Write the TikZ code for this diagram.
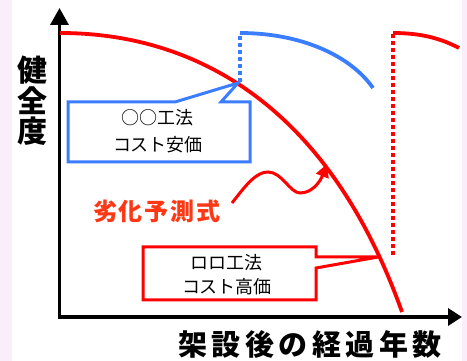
\documentclass[tikz,border=0pt]{standalone}
\usepackage{fontspec}
\newfontfamily\jp{Noto Sans CJK JP}
\usetikzlibrary{arrows.meta}
\definecolor{mred}{RGB}{255,0,0}
\definecolor{mblue}{RGB}{59,125,255}
\definecolor{morange}{RGB}{255,55,20}
\definecolor{bgpink}{RGB}{250,238,250}
\begin{document}
\begin{tikzpicture}[x=1pt,y=-1pt,
  axis/.style={line width=3.5pt,black,{Triangle[length=17pt,width=18pt]}-{Triangle[length=14pt,width=17pt]}},
  redline/.style={line width=3.8pt,mred},
  blueline/.style={line width=3.8pt,mblue},
  dotline/.style={dash pattern=on 3.5pt off 3.5pt},
  callblue/.style={line width=3pt,mblue,fill=white,line join=miter},
  callred/.style={line width=3pt,mred,fill=white,line join=miter},
  calltext/.style={font=\jp\fontsize{18}{27}\selectfont,align=center,inner sep=0pt},
  biglabel/.style={font=\jp\bfseries\fontsize{30}{30.5}\selectfont,align=center,inner sep=0pt},
]
\useasboundingbox (0,0) rectangle (467,361);
\fill[bgpink] (0,0) rectangle (12,361);
\fill[bgpink] (462,0) rectangle (467,361);

% axes
\coordinate (ytop) at (59.5,8);
\coordinate (O) at (59.5,317);
\coordinate (xend) at (462,317);
\draw[axis] (ytop) -- (O) -- (xend);

% axis labels
\node[biglabel] (ylab) at (32,101) {健\\全\\度};
\node[biglabel,font=\jp\bfseries\fontsize{29}{30}\selectfont] (xlab) at (310,344)
  {架\kern4.5pt 設\kern4.5pt 後\kern4.5pt の\kern4.5pt 経\kern4.5pt 過\kern4.5pt 年\kern4.5pt 数};

% blue curve (method 1)
\coordinate (b0) at (240,82);
\coordinate (b1) at (240,33);
\coordinate (b2) at (373,88);
\draw[blueline,dotline] (b0) -- (b1);
\draw[blueline] (b1) .. controls (300,33) and (350,55) .. (b2);

% red repaired curve (method 2)
\coordinate (r0) at (393,255);
\coordinate (r1) at (393,33);
\coordinate (r2) at (459,48);
\draw[redline,dotline] (r0) -- (r1);
\draw[redline] (r1) .. controls (420,33) and (440,38) .. (r2);

% main deterioration curve
\coordinate (m0) at (60,33);
\coordinate (m1) at (402,312);
\draw[redline] (m0) .. controls (200,33) and (330,110) .. (m1);

% blue callout
\draw[callblue] (68,102) -- (175,102) -- (238,83) -- (221,102) -- (250,102) -- (250,162) -- (68,162) -- cycle;
\node[calltext] (bt) at (158,131.5) {○○工法\\コスト安価};

% red callout
\draw[callred] (143,247) -- (316,247) -- (316,257) -- (378,257) -- (316,268) -- (316,300) -- (143,300) -- cycle;
\node[calltext,font=\jp\fontsize{18}{24}\selectfont] (rt) at (227,275) {ロロ工法\\コスト高価};

% formula label and wavy arrow
\node[font=\jp\bfseries\fontsize{24}{24}\selectfont,text=morange,inner sep=0pt] (fl) at (157,211)
  {劣\kern2pt 化\kern2pt 予\kern2pt 測\kern2pt 式};
\coordinate (w0) at (232,203);
\coordinate (w1) at (268,172);
\coordinate (w2) at (300,193);
\coordinate (w3) at (327,164);
\draw[line width=3pt,mred,-{Triangle[length=13pt,width=13pt]}]
  (w0) .. controls (246,185) and (256,172) .. (w1)
       .. controls (282,172) and (290,193) .. (w2)
       .. controls (312,193) and (320,182) .. (w3);
\end{tikzpicture}
\end{document}
